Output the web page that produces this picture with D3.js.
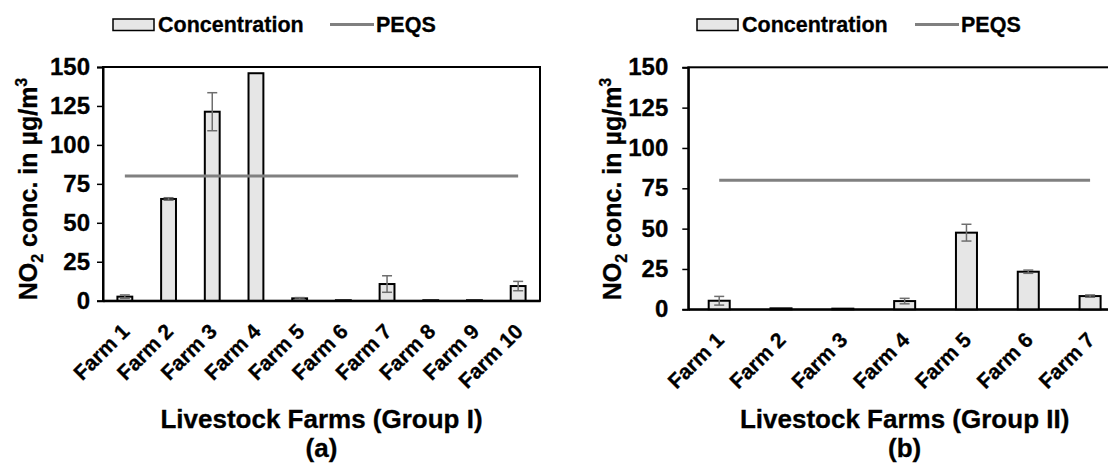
<!DOCTYPE html>
<html>
<head>
<meta charset="utf-8">
<script src="https://cdn.jsdelivr.net/npm/d3@7"></script>
<style>
  body { margin: 0; background: #fff; }
  svg { display: block; overflow: hidden; }
  text { font-family: "Liberation Sans", Arial, sans-serif; font-weight: bold; fill: #000; stroke: #000; stroke-width: 0.3px; }
</style>
</head>
<body>
<div id="chart"></div>
<script>
// Data
const farmsA = ['Farm 1', 'Farm 2', 'Farm 3', 'Farm 4', 'Farm 5', 'Farm 6', 'Farm 7', 'Farm 8', 'Farm 9', 'Farm 10'];
const concA = [2.6, 65.3, 121.3, 146, 1.5, 0.3, 10.7, 0.3, 0.3, 9.4];
const errA = [1.1, 0.8, 12.2, 0, 0.5, 0, 5.3, 0, 0, 3];

const farmsB = ['Farm 1', 'Farm 2', 'Farm 3', 'Farm 4', 'Farm 5', 'Farm 6', 'Farm 7'];
const concB = [5.3, 0.6, 0.4, 5.1, 47.5, 23.3, 8.2];
const errB = [2.7, 0, 0, 1.7, 5.2, 1, 0.7];

const peqs = 80;
const yTicks = [0, 25, 50, 75, 100, 125, 150];
const legendLabels = ['Concentration', 'PEQS'];

const svg = d3.select('#chart')
    .append('svg')
    .attr('width', 1108)
    .attr('height', 463);

function drawPanel(opt) {
    const g = svg.append('g');

    const x = d3.scaleBand()
        .domain(opt.farms)
        .range([opt.left, opt.right]);

    const y = d3.scaleLinear()
        .domain([0, 150])
        .range([opt.bottom, opt.top]);

    const barW = x.bandwidth() * 0.34;

    // box around the plot
    g.append('rect')
        .attr('x', opt.left)
        .attr('y', opt.top)
        .attr('width', opt.right - opt.left)
        .attr('height', opt.bottom - opt.top)
        .attr('fill', 'none')
        .attr('stroke', '#000')
        .attr('stroke-width', 2);

    // y axis
    const yAxis = g.append('g')
        .attr('transform', `translate(${opt.left},0)`)
        .call(d3.axisLeft(y).tickValues(yTicks).tickSize(6).tickPadding(opt.tickPad));
    yAxis.select('.domain').attr('stroke-width', 2);
    yAxis.selectAll('.tick line').attr('stroke-width', 1.5);
    yAxis.selectAll('.tick text')
        .style('font-size', '24px');

    // x axis (line only, labels rotated)
    const xAxis = g.append('g')
        .attr('transform', `translate(0,${opt.bottom})`)
        .call(d3.axisBottom(x).tickSize(0).tickPadding(0));
    xAxis.select('.domain').attr('stroke-width', 2);
    xAxis.selectAll('.tick text')
        .style('font-size', '21px')
        .attr('text-anchor', 'end')
        .attr('dy', 0)
        .attr('y', 0)
        .attr('transform', 'translate(6,32) rotate(-45)');

    // bars
    g.selectAll('.bar')
        .data(opt.values)
        .enter()
        .append('rect')
        .attr('class', 'bar')
        .attr('x', (d, i) => x(opt.farms[i]) + (x.bandwidth() - barW) / 2)
        .attr('y', d => y(d))
        .attr('width', barW)
        .attr('height', d => y(0) - y(d))
        .attr('fill', '#e6e6e6')
        .attr('stroke', '#000')
        .attr('stroke-width', 2);

    // error bars
    const eb = g.selectAll('.err')
        .data(opt.values.map((v, i) => ({ v: v, e: opt.errors[i], c: opt.farms[i] })).filter(d => d.e > 0))
        .enter()
        .append('g')
        .attr('class', 'err')
        .attr('stroke', '#6e6e6e')
        .attr('stroke-width', 1.5);
    eb.append('line')
        .attr('x1', d => x(d.c) + x.bandwidth() / 2)
        .attr('x2', d => x(d.c) + x.bandwidth() / 2)
        .attr('y1', d => y(d.v + d.e))
        .attr('y2', d => y(Math.max(0, d.v - d.e)));
    [1, -1].forEach(function(s) {
        eb.append('line')
            .attr('x1', d => x(d.c) + x.bandwidth() / 2 - 5)
            .attr('x2', d => x(d.c) + x.bandwidth() / 2 + 5)
            .attr('y1', d => y(Math.max(0, d.v + s * d.e)))
            .attr('y2', d => y(Math.max(0, d.v + s * d.e)));
    });

    // PEQS limit line across the farms
    const line = d3.line()
        .x(d => x(d) + x.bandwidth() / 2)
        .y(() => y(peqs));
    g.append('path')
        .datum(opt.farms)
        .attr('d', line)
        .attr('fill', 'none')
        .attr('stroke', '#808080')
        .attr('stroke-width', 3);

    // y axis title with sub/superscript
    const yt = g.append('text')
        .attr('transform', `translate(${opt.yTitleX},189) rotate(-90)`)
        .attr('text-anchor', 'middle')
        .style('font-size', '25px');
    yt.append('tspan').text('NO');
    yt.append('tspan').style('font-size', '16px').attr('dy', 6).text('2');
    yt.append('tspan').attr('dy', -6).text(' conc. in µg/m');
    yt.append('tspan').style('font-size', '16px').attr('dy', -10).text('3');

    // x axis title and panel letter
    const cx = (opt.left + opt.right) / 2;
    g.append('text')
        .attr('x', cx)
        .attr('y', 428)
        .attr('text-anchor', 'middle')
        .style('font-size', '26px')
        .text(opt.xTitle);
    g.append('text')
        .attr('x', cx)
        .attr('y', 457)
        .attr('text-anchor', 'middle')
        .style('font-size', '26px')
        .text(opt.letter);

    // legend
    const lg = g.append('g').attr('transform', `translate(${opt.legendX},0)`);
    lg.append('rect')
        .attr('x', 0).attr('y', 19)
        .attr('width', 41).attr('height', 11.5)
        .attr('fill', '#e6e6e6')
        .attr('stroke', '#000')
        .attr('stroke-width', 1.5);
    lg.append('text')
        .attr('x', 45).attr('y', 31.5)
        .style('font-size', '21.5px')
        .text(legendLabels[0]);
    lg.append('line')
        .attr('x1', opt.legendLine).attr('x2', opt.legendLine + 44)
        .attr('y1', 24.5).attr('y2', 24.5)
        .attr('stroke', '#808080')
        .attr('stroke-width', 3);
    lg.append('text')
        .attr('x', opt.legendLine + 46).attr('y', 31.5)
        .style('font-size', '21.5px')
        .text(legendLabels[1]);
}

drawPanel({
    farms: farmsA, values: concA, errors: errA,
    left: 103, right: 540, top: 67, bottom: 300.7,
    tickPad: 7, yTitleX: 37,
    xTitle: 'Livestock Farms (Group I)', letter: '(a)',
    legendX: 113, legendLine: 217
});

drawPanel({
    farms: farmsB, values: concB, errors: errB,
    left: 688.3, right: 1121, top: 67.3, bottom: 309.3,
    tickPad: 14, yTitleX: 621,
    xTitle: 'Livestock Farms (Group II)', letter: '(b)',
    legendX: 697, legendLine: 218
});
</script>
</body>
</html>
